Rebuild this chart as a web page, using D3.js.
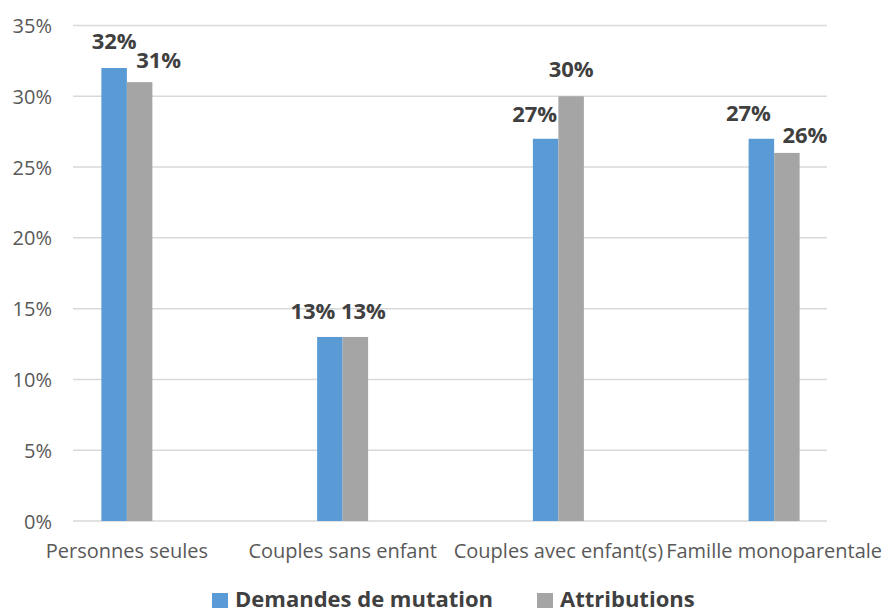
<!DOCTYPE html>
<html>
<head>
<meta charset="utf-8">
<script src="https://cdn.jsdelivr.net/npm/d3@7"></script>
<style>
  html, body { margin: 0; padding: 0; background: #fff; }
  svg { display: block; font-family: "Open Sans", "Noto Sans", sans-serif; }
</style>
</head>
<body>
<svg id="chart" width="884" height="614"></svg>
<script>
// Household composition: transfer requests vs. allocations (share, %)
const categories = ["Personnes seules", "Couples sans enfant", "Couples avec enfant(s)", "Famille monoparentale"];
const seriesNames = ["Demandes de mutation", "Attributions"];
const demandes = [32, 13, 27, 27];
const attributions = [31, 13, 30, 26];
const yTicks = [0, 5, 10, 15, 20, 25, 30, 35];

// Label nudges (dx, dy above bar top) so neighbouring value labels don't collide
const labelNudge = [
  [[0, 19], [19, 14]],
  [[-17, 18], [8, 18]],
  [[-11, 17], [0, 19]],
  [[-13, 18], [18, 10]]
];

const colors = ["#5B9BD5", "#A5A5A5"];
const svg = d3.select("#chart");

const y = d3.scaleLinear().domain([0, 35]).range([521, 25.5]);
const x = d3.scaleBand().domain(categories).range([19, 882]).padding(0);
const inner = d3.scaleBand().domain(seriesNames).range([0, 51]);
const barOffset = cat => x(cat) + x.bandwidth() / 2 - 25.5;

// Gridlines
svg.append("g")
  .selectAll("line")
  .data(yTicks)
  .join("line")
  .attr("x1", 73).attr("x2", 827)
  .attr("y1", d => y(d)).attr("y2", d => y(d))
  .attr("stroke", "#D9D9D9")
  .attr("stroke-width", 1.5);

// Y axis labels
const yAxis = d3.axisLeft(y).tickValues(yTicks).tickFormat(d => d + "%").tickSize(0).tickPadding(0);
const gy = svg.append("g").attr("transform", "translate(52,0)").call(yAxis);
gy.select(".domain").remove();
gy.selectAll("text")
  .attr("fill", "#595959")
  .style("font-size", "20px")
  .style("font-family", "'Open Sans', sans-serif")
  .attr("dy", "0.35em");

// X axis category labels
const xAxis = d3.axisBottom(x).tickSize(0).tickPadding(0);
const gx = svg.append("g").attr("transform", "translate(0,558)").call(xAxis);
gx.select(".domain").remove();
gx.selectAll("text")
  .attr("fill", "#595959")
  .style("font-size", "20px")
  .style("font-family", "'Open Sans', sans-serif")
  .attr("dy", "0");

// Bars
const rows = categories.map((c, i) => ({ cat: c, i, vals: [demandes[i], attributions[i]] }));
const groups = svg.append("g").selectAll("g")
  .data(rows)
  .join("g")
  .attr("transform", d => `translate(${barOffset(d.cat)},0)`);

groups.selectAll("rect")
  .data(d => d.vals.map((v, s) => ({ v, s })))
  .join("rect")
  .attr("x", d => inner(seriesNames[d.s]))
  .attr("width", inner.bandwidth())
  .attr("y", d => y(d.v))
  .attr("height", d => y(0) - y(d.v))
  .attr("fill", d => colors[d.s]);

// Value labels
groups.selectAll("text")
  .data(d => d.vals.map((v, s) => ({ v, s, n: labelNudge[d.i][s] })))
  .join("text")
  .attr("x", d => inner(seriesNames[d.s]) + inner.bandwidth() / 2 + d.n[0])
  .attr("y", d => y(d.v) - d.n[1])
  .attr("text-anchor", "middle")
  .attr("fill", "#404040")
  .style("font-size", "22px")
  .style("font-weight", "bold")
  .text(d => d.v + "%");

// Legend
const legendX = [212, 537];
const legend = svg.append("g").selectAll("g")
  .data(seriesNames)
  .join("g")
  .attr("transform", (d, i) => `translate(${legendX[i]},0)`);
legend.append("rect")
  .attr("x", 0).attr("y", 593).attr("width", 16).attr("height", 15)
  .attr("fill", (d, i) => colors[i]);
legend.append("text")
  .attr("x", 23).attr("y", 607)
  .attr("fill", "#404040")
  .style("font-size", "22px")
  .style("font-weight", "bold")
  .text(d => d);
</script>
</body>
</html>
